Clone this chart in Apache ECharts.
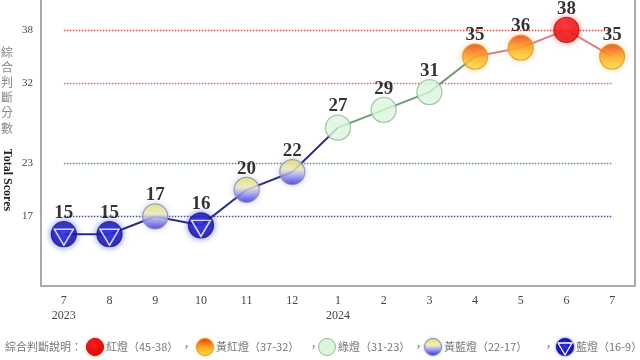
<!DOCTYPE html>
<html><head><meta charset="utf-8">
<script src="https://cdn.jsdelivr.net/npm/echarts@6/dist/echarts.min.js"></script>
<style>html,body{margin:0;padding:0;background:#fff}#c{width:640px;height:360px}</style>
</head><body><div id="c"></div>
<script>
const months = ['7','8','9','10','11','12','1','2','3','4','5','6','7'];
const years = ['2023','','','','','','2024','','','','','',''];
const scores = [15,15,17,16,20,22,27,29,31,35,36,38,35];
const thresholds = [38,32,23,17];
const thresholdColors = ['#d44a4a','#c86a6a','#4f9a4f','#4a4aa8'];
const yTicks = [17,23,32,38];
const legendTitle = '綜合判斷說明：';
const legendItems = ['紅燈（45-38）','黃紅燈（37-32）','綠燈（31-23）','黃藍燈（22-17）','藍燈（16-9）'];
const legendKeys = ['red','yr','green','yb','blue'];

const G = echarts.graphic;
function signal(v){ if(v>=38) return 'red'; if(v>=32) return 'yr'; if(v>=23) return 'green'; if(v>=17) return 'yb'; return 'blue'; }
function segColor(s){ return (s==='red'||s==='yr') ? '#d98282' : (s==='green' ? '#6f9a7a' : '#2b2b8c'); }
const fills = {
  red: new G.RadialGradient(0.45,0.4,0.6,[{offset:0,color:'#ff2020'},{offset:1,color:'#d80000'}]),
  yr: new G.LinearGradient(0,0,0,1,[{offset:0,color:'#e8300c'},{offset:0.45,color:'#ff9a1c'},{offset:1,color:'#ffec3c'}]),
  green: '#dcf5de',
  yb: new G.LinearGradient(0,0,0,1,[{offset:0,color:'#f0ea50'},{offset:0.4,color:'#f2f0c0'},{offset:0.62,color:'#a8a8f2'},{offset:1,color:'#2424e0'}]),
  blue: new G.RadialGradient(0.5,0.45,0.6,[{offset:0,color:'#3030e8'},{offset:1,color:'#08088c'}])
};
const borders = {red:'#c01010', yr:'#d89a30', green:'#8fbb98', yb:'#8a8ab8', blue:'#1a1a80'};
const glows = {red:'rgba(255,90,90,0.7)', yr:'rgba(240,170,60,0.5)', green:'rgba(0,0,0,0)', yb:'rgba(120,120,200,0.4)', blue:'rgba(50,50,255,0.7)'};

const series = [];
let start = 0;
for (let i = 0; i < scores.length - 1; i++) {
  const c = segColor(signal(scores[i]));
  const next = i + 1 < scores.length - 1 ? segColor(signal(scores[i+1])) : null;
  if (next !== c) {
    const data = scores.map((v,k)=> (k>=start && k<=i+1) ? v : '-');
    series.push({type:'line', data, symbol:'none', silent:true, z:2,
      lineStyle:{color:c, width:2}});
    start = i + 1;
  }
}
series.push({type:'line', data:[], silent:true, z:1,
  markLine:{symbol:'none', silent:true, label:{show:false},
    data: thresholds.map((t,k)=>[{coord:[0,t], lineStyle:{color:thresholdColors[k], type:[1.5,1.5], width:1.4}},{coord:[months.length-1,t]}])}});
series.push({type:'scatter', z:5, symbol:'circle', symbolSize:25,
  data: scores.map(v=>{const s=signal(v); return {value:v, itemStyle:{color:fills[s], borderColor:borders[s], borderWidth:1.3, shadowBlur:6, shadowColor:glows[s]}};}),
  label:{show:true, position:'top', distance:-1.5, fontSize:19, fontWeight:'bold', fontFamily:'Liberation Serif', color:'#000'},
  labelLayout:{hideOverlap:false}
});
series.push({type:'scatter', z:6, silent:true, symbol:'path://M0,0 L20,0 L10,17 Z', symbolSize:[19,16], symbolOffset:[0,3],
  data: scores.map(v=> signal(v)==='blue' ? v : '-'),
  itemStyle:{color:'rgba(0,0,0,0)', borderColor:'#ffffff', borderWidth:1.5}
});

const graphics = [];
'綜合判斷分數'.split('').forEach((ch,k)=>graphics.push({type:'text', x:7, y:52+k*15.2,
  style:{text:ch, fill:'#888', font:'12px "Noto Sans CJK TC"', textAlign:'center', textVerticalAlign:'middle'}}));
graphics.push({type:'text', x:7, y:180, rotation:-Math.PI/2,
  style:{text:'Total Scores', fill:'#222', font:'bold 12px "Liberation Serif"', textAlign:'center', textVerticalAlign:'middle'}});
const ly = 347;
graphics.push({type:'text', x:5, y:ly, style:{text:legendTitle, fill:'#777', font:'11px "Noto Sans CJK TC"', textVerticalAlign:'middle'}});
const lx = [95, 205, 327, 433, 565];
legendKeys.forEach((k,i)=>{
  graphics.push({type:'circle', shape:{cx:lx[i], cy:ly, r:8.5}, style:{fill:fills[k], stroke:borders[k], lineWidth:1, shadowBlur:3, shadowColor:glows[k]}});
  if (k==='blue') graphics.push({type:'polyline', shape:{points:[[lx[i]-7,ly-4],[lx[i]+7,ly-4],[lx[i],ly+8],[lx[i]-7,ly-4]]}, style:{stroke:'#fff', lineWidth:1.3, fill:null}});
  graphics.push({type:'text', x:lx[i]+11, y:ly, style:{text:legendItems[i], fill:'#777', font:'11px "Noto Sans CJK TC"', textVerticalAlign:'middle'}});
  if (i<legendKeys.length-1) graphics.push({type:'text', x:[181,308,413,543][i], y:ly, style:{text:'，', fill:'#777', font:'11px "Noto Sans CJK TC"', textVerticalAlign:'middle'}});
});

const chart = echarts.init(document.getElementById('c'));
chart.setOption({
  animation:false,
  backgroundColor:'#fff',
  grid:{left:41, right:5, top:0, bottom:74, containLabel:false},
  xAxis:{type:'category', data:months, boundaryGap:true,
    axisLine:{lineStyle:{color:'#ababab', width:2}}, axisTick:{show:false},
    axisLabel:{color:'#444', fontFamily:'Liberation Serif', fontSize:12, margin:7, lineHeight:15,
      formatter:(v,i)=> years[i] ? v+'\n'+years[i] : v}},
  yAxis:[{type:'value', min:9.17, max:41.37, splitLine:{show:false},
    axisLine:{show:true, lineStyle:{color:'#ababab', width:2}}, axisTick:{show:false},
    axisLabel:{customValues:yTicks, color:'#444', fontFamily:'Liberation Serif', fontSize:11, margin:8}},
    {type:'value', position:'right', min:9.17, max:41.37, splitLine:{show:false},
    axisLine:{show:true, lineStyle:{color:'#ababab', width:2}}, axisTick:{show:false}, axisLabel:{show:false}}],
  graphic:graphics,
  series
});
</script></body></html>
